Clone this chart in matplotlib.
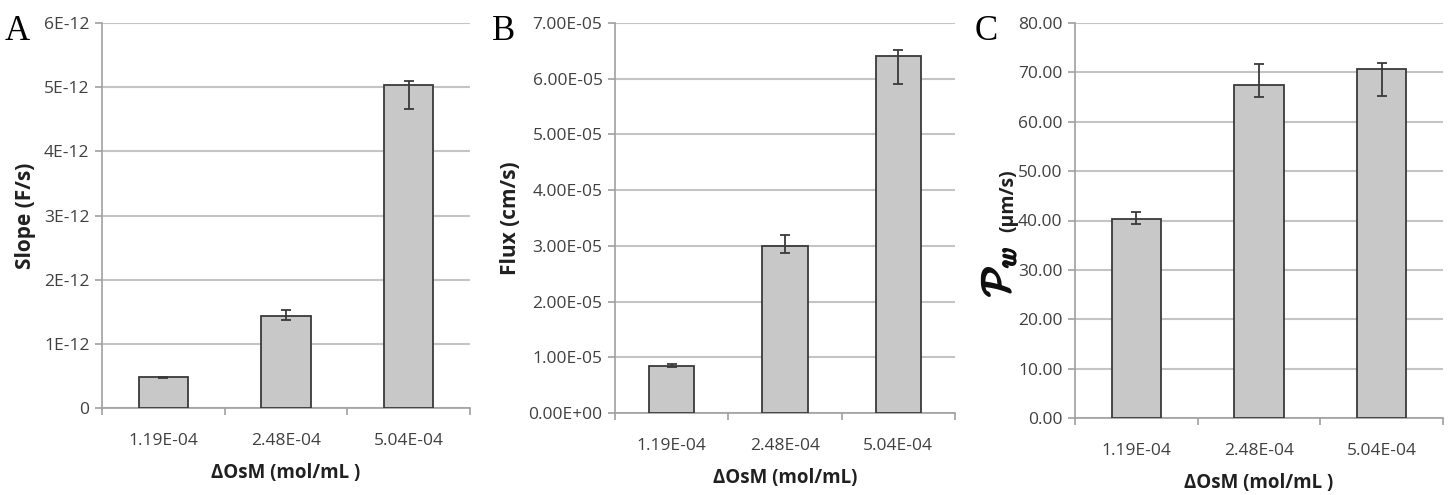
import numpy as np
import matplotlib.pyplot as plt
import matplotlib.patheffects as pe
from matplotlib.ticker import FixedLocator, FuncFormatter

plt.rcParams['font.family'] = ['Liberation Sans Narrow', 'Open Sans', 'DejaVu Sans']
plt.rcParams['mathtext.fontset'] = 'cm'

categories = ['1.19E-04', '2.48E-04', '5.04E-04']

# panel A: slope (F/s)
slope = [0.48e-12, 1.43e-12, 5.03e-12]
slope_lo = [0.02e-12, 0.06e-12, 0.37e-12]
slope_hi = [0.01e-12, 0.09e-12, 0.06e-12]

# panel B: flux (cm/s)
flux = [0.85e-5, 3.00e-5, 6.41e-5]
flux_lo = [0.02e-5, 0.12e-5, 0.50e-5]
flux_hi = [0.03e-5, 0.19e-5, 0.10e-5]

# panel C: Pw (um/s)
pw = [40.3, 67.5, 70.6]
pw_lo = [1.1, 2.5, 5.3]
pw_hi = [1.4, 4.1, 1.4]

fig = plt.figure(figsize=(14.55, 4.95), dpi=100)
W, H = 1455, 495

def add_ax(left, right, top, bottom):
    return fig.add_axes([left / W, 1 - bottom / H, (right - left) / W, (bottom - top) / H])

grid_col = '#c4c4c4'
txt_col = '#404040'
lab_font = ['Open Sans', 'DejaVu Sans']

def style(ax, vals, lo, hi, ymax, step, fmt, xlabel):
    x = np.arange(len(categories))
    ax.bar(x, vals, width=0.4, color='#c8c8c8', edgecolor='#3a3a3a', linewidth=1.3, zorder=3)
    ax.errorbar(x, vals, yerr=[lo, hi], fmt='none', ecolor='#3a3a3a', elinewidth=1.3,
                capsize=3.5, capthick=1.3, zorder=4)
    ax.set_xlim(-0.5, 2.5)
    ax.set_ylim(0, ymax)
    ax.set_yticks(np.arange(0, ymax + step / 2, step))
    ax.yaxis.set_major_formatter(FuncFormatter(fmt))
    ax.set_xticks(x)
    ax.set_xticklabels(categories)
    ax.xaxis.set_minor_locator(FixedLocator([-0.5, 0.5, 1.5, 2.5]))
    ax.tick_params(axis='x', which='major', length=0, pad=18, labelsize=12.5, colors=txt_col)
    ax.tick_params(axis='x', which='minor', length=5, width=1.2, color='#a0a0a0')
    ax.tick_params(axis='y', length=5, width=1.2, color='#a0a0a0', labelsize=12.5,
                   labelcolor=txt_col, pad=4)
    ax.grid(axis='y', color=grid_col, linewidth=1.5, zorder=0)
    ax.set_axisbelow(True)
    for s in ['top', 'right']:
        ax.spines[s].set_visible(False)
    for s in ['left', 'bottom']:
        ax.spines[s].set_color('#a0a0a0')
        ax.spines[s].set_linewidth(1.2)
    ax.set_xlabel(xlabel, fontsize=13.5, fontweight='bold', color='#202020',
                  family=lab_font, labelpad=10)

axA = add_ax(102, 470, 23, 408)
style(axA, slope, slope_lo, slope_hi, 6e-12, 1e-12,
      lambda v, p: '0' if v == 0 else '%dE-12' % round(v * 1e12), 'ΔOsM (mol/mL )')
axA.set_ylabel('Slope (F/s)', fontsize=15, fontweight='bold', color='#202020',
               family=lab_font, labelpad=6)

axB = add_ax(615, 955, 23, 413)
style(axB, flux, flux_lo, flux_hi, 7e-5, 1e-5,
      lambda v, p: '%.2fE%+03d' % (v * 1e5, -5) if v != 0 else '0.00E+00', 'ΔOsM (mol/mL)')
axB.set_ylabel('Flux (cm/s)', fontsize=15, fontweight='bold', color='#202020',
               family=lab_font, labelpad=5)

axC = add_ax(1075, 1443, 23, 418)
style(axC, pw, pw_lo, pw_hi, 80, 10, lambda v, p: '%.2f' % v, 'ΔOsM (mol/mL )')
# bold-looking script P_w: thicken the thin mathcal glyph with a stroke
axC.text(-0.207, 0.37, r'$\mathcal{P}_{\mathit{w}}$', transform=axC.transAxes, rotation=90,
         fontsize=28, color='#101010', ha='center', va='center',
         path_effects=[pe.withStroke(linewidth=1.6, foreground='#101010')])
axC.text(-0.182, 0.55, '(µm/s)', transform=axC.transAxes, rotation=90, fontsize=14,
         fontweight='bold', color='#202020', family=lab_font, ha='center', va='center')

for lab, xp in [('A', 5), ('B', 492), ('C', 975)]:
    fig.text(xp / W, 1 - 40 / H, lab, fontsize=25, family='Liberation Serif', color='black')

fig.savefig('out.png', dpi=100)
